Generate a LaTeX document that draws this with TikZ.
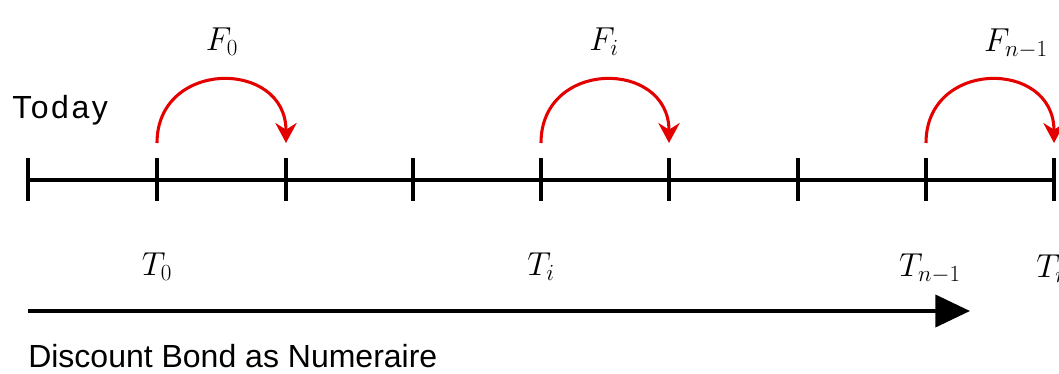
\documentclass[tikz,border=0pt]{standalone}
\usepackage{fontspec}
\setmainfont{Liberation Sans}
\usetikzlibrary{arrows.meta}
\begin{document}
\begin{tikzpicture}[x=0.75pt,y=-0.75pt,
  axis/.style={line width=2.6pt,black},
  tickmark/.style={line width=2.6pt,black},
  hop/.style={line width=2.3pt,red!90!black,-{Stealth[length=15pt,width=16pt,inset=5pt]}},
  numer/.style={line width=3pt,black,-{Triangle[length=26pt,width=24pt]}},
  lbl/.style={inner sep=0pt,font=\fontsize{24}{28}\selectfont},
  txt/.style={inner sep=0pt,font=\fontsize{24}{28}\selectfont}]
\useasboundingbox (0,0) rectangle (1059,374);
% tick positions
\foreach \n/\x in {0/28,1/157,2/286,3/413,4/541,5/669,6/798,7/926,8/1054}{
  \coordinate (t\n) at (\x,180);
  \coordinate (u\n) at (\x,158);
  \coordinate (d\n) at (\x,201);
  \coordinate (a\n) at (\x,143);
}
\draw[axis] (t0) -- (t8);
\foreach \n in {0,...,8}{\draw[tickmark] (u\n) -- (d\n);}
% hops
\draw[hop] (a1) .. controls ++(0,-84) and ++(0,-84) .. (a2);
\draw[hop] (a4) .. controls ++(0,-84) and ++(0,-84) .. (a5);
\draw[hop] (a7) .. controls ++(0,-84) and ++(0,-84) .. (a8);
% labels
\node[lbl] (F0) at (222,42) {$F_0$};
\node[lbl] (Fi) at (604,42) {$F_i$};
\node[lbl] (Fn) at (1016,44) {$F_{n-1}$};
\node[lbl] (T0) at (157,267) {$T_0$};
\node[lbl] (Ti) at (541,267) {$T_i$};
\node[lbl] (Tn1) at (930,269) {$T_{n-1}$};
\node[lbl,anchor=west] (Tn) at (1036,269) {$T_n$};
\node[txt,anchor=west] (today) at (12,110) {\addfontfeature{LetterSpace=8}Today};
% numeraire arrow
\coordinate (s) at (28,311);
\coordinate (e) at (970,311);
\draw[numer] (s) -- (e);
\node[txt,anchor=west] (disc) at (28,356) {Discount Bond as Numeraire};
\end{tikzpicture}
\end{document}
